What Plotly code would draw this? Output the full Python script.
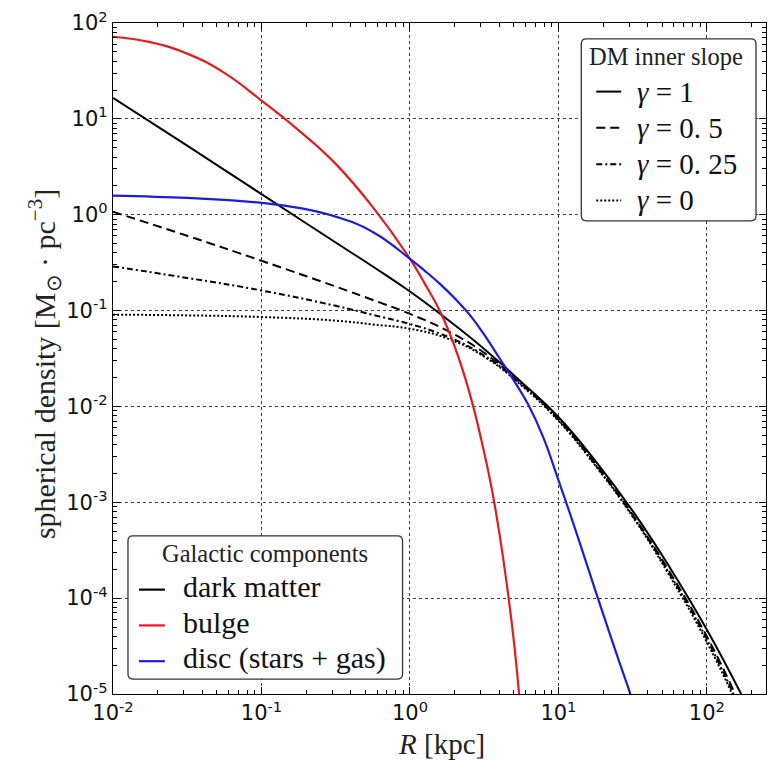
import plotly.graph_objects as go

# ---- Density profiles: radius R [kpc] and spherical density [Msun / pc^3] ----
R_bulge = [0.01, 0.0178, 0.0316, 0.0562, 0.1, 0.178, 0.316, 0.562, 1.0, 1.259, 1.585, 1.995,
           2.512, 3.162, 3.548, 3.981, 4.467, 5.012, 5.433]
rho_bulge = [71.9, 63.1, 47.9, 30.2, 15.5, 7.59, 3.39, 1.20, 0.347, 0.191, 0.100, 0.0427,
             0.0141, 0.00331, 0.00141, 5.01e-4, 1.48e-4, 3.55e-5, 1.0e-5]

R_disc = [0.01, 0.0316, 0.0562, 0.1, 0.178, 0.316, 0.562, 1.0, 1.259, 1.585, 1.995, 2.512,
          3.162, 3.981, 5.012, 6.31, 7.943, 10.0, 12.59, 15.85, 19.95, 25.12, 30.55]
rho_disc = [1.585, 1.50, 1.429, 1.33, 1.18, 0.955, 0.661, 0.347, 0.260, 0.191, 0.135, 0.0912,
            0.0562, 0.0324, 0.0186, 0.0102, 0.00468, 0.0017, 6.03e-4, 2.04e-4, 6.92e-5, 2.40e-5, 1.0e-5]

# dark matter halo for several inner slopes gamma
R_dm_g1 = [0.01, 0.0316, 0.1, 0.316, 0.562, 1.0, 1.778, 3.162, 5.623, 10.0, 17.78, 31.62, 56.23, 100, 170]
rho_dm_g1 = [16.6, 5.25, 1.64, 0.513, 0.288, 0.158, 0.0813, 0.0398, 0.0180, 0.00776, 0.00269,
             8.13e-4, 2.09e-4, 4.68e-5, 1.0e-5]

R_dm_g05 = [0.01, 0.0316, 0.1, 0.316, 0.562, 1.0, 1.778, 3.162, 5.623, 10.0, 17.78, 31.62, 56.23, 100, 155]
rho_dm_g05 = [1.072, 0.603, 0.331, 0.178, 0.129, 0.0923, 0.0617, 0.0363, 0.0174, 0.00741, 0.00251,
              7.41e-4, 1.86e-4, 3.98e-5, 1.0e-5]

R_dm_g025 = [0.01, 0.0316, 0.1, 0.316, 0.562, 1.0, 1.778, 3.162, 5.623, 10.0, 17.78, 31.62, 56.23, 100, 151]
rho_dm_g025 = [0.289, 0.219, 0.162, 0.112, 0.0902, 0.0724, 0.0537, 0.0339, 0.0170, 0.00724, 0.00245,
               7.24e-4, 1.78e-4, 3.72e-5, 1.0e-5]

R_dm_g0 = [0.01, 0.0316, 0.1, 0.316, 0.562, 1.0, 1.778, 3.162, 5.623, 10.0, 17.78, 31.62, 56.23, 100, 148]
rho_dm_g0 = [0.0906, 0.0891, 0.0857, 0.0785, 0.0716, 0.0646, 0.0513, 0.0331, 0.0166, 0.00708, 0.0024,
             7.08e-4, 1.70e-4, 3.47e-5, 1.0e-5]

# ---- Axis ticks ----
x_tick_vals = [0.01, 0.1, 1, 10, 100]
x_tick_text = ["10<sup>-2</sup>", "10<sup>-1</sup>", "10<sup>0</sup>", "10<sup>1</sup>", "10<sup>2</sup>"]
y_tick_vals = [1e-5, 1e-4, 1e-3, 1e-2, 1e-1, 1, 10, 100]
y_tick_text = ["10<sup>-5</sup>", "10<sup>-4</sup>", "10<sup>-3</sup>", "10<sup>-2</sup>",
               "10<sup>-1</sup>", "10<sup>0</sup>", "10<sup>1</sup>", "10<sup>2</sup>"]
x_minor = [k * 10.0 ** d for d in range(-2, 3) for k in range(2, 10) if k * 10.0 ** d <= 250]
y_minor = [k * 10.0 ** d for d in range(-5, 2) for k in range(2, 10)]

# ---- Legend entries ----
comp_labels = ["dark matter", "bulge", "disc (stars + gas)"]
comp_colors = ["black", "#e31d1d", "#1c1cdc"]
slope_labels = ["<i>γ</i> = 1", "<i>γ</i> = 0. 5", "<i>γ</i> = 0. 25", "<i>γ</i> = 0"]
slope_dashes = ["solid", "9px,5px", "6px,3px,2px,3px", "2px,2px"]

# ---- Layout geometry (pixels) ----
W, H = 775, 760
ML, MR, MT, MB = 113, 8, 19, 66
PW, PH = W - ML - MR, H - MT - MB


def fx(x):
    return (x - ML) / PW


def fy(y):
    return (H - MB - y) / PH


def rounded_box(x0, y0, x1, y1, r):
    pts = [
        ("M", [(x0 + r, y0)]), ("L", [(x1 - r, y0)]), ("Q", [(x1, y0), (x1, y0 + r)]),
        ("L", [(x1, y1 - r)]), ("Q", [(x1, y1), (x1 - r, y1)]), ("L", [(x0 + r, y1)]),
        ("Q", [(x0, y1), (x0, y1 - r)]), ("L", [(x0, y0 + r)]), ("Q", [(x0, y0), (x0 + r, y0)]),
    ]
    s = ""
    for cmd, coords in pts:
        s += cmd + " " + " ".join(f"{fx(a):.5f},{fy(b):.5f}" for a, b in coords) + " "
    return s + "Z"


fig = go.Figure()

dm_sets = [(R_dm_g1, rho_dm_g1), (R_dm_g05, rho_dm_g05), (R_dm_g025, rho_dm_g025), (R_dm_g0, rho_dm_g0)]
for (r, rho), dash in zip(dm_sets, slope_dashes):
    fig.add_trace(go.Scatter(x=r, y=rho, mode="lines",
                             line=dict(color="black", width=2, dash=dash, shape="spline", smoothing=1.3),
                             showlegend=False, hoverinfo="skip"))

fig.add_trace(go.Scatter(x=R_bulge, y=rho_bulge, mode="lines",
                         line=dict(color=comp_colors[1], width=2.2, shape="spline", smoothing=1.3),
                         showlegend=False, hoverinfo="skip"))
fig.add_trace(go.Scatter(x=R_disc, y=rho_disc, mode="lines",
                         line=dict(color=comp_colors[2], width=2.2, shape="spline", smoothing=1.3),
                         showlegend=False, hoverinfo="skip"))

serif = "Liberation Serif, Times New Roman, serif"
sans = "DejaVu Sans, sans-serif"

shapes = []
annotations = []

# Galactic components legend box
shapes.append(dict(type="path", xref="paper", yref="paper", path=rounded_box(128, 535, 403, 679, 5),
                   fillcolor="white", line=dict(color="#333333", width=1.3), layer="above"))
annotations.append(dict(x=fx(265), y=fy(553), xref="paper", yref="paper", text="Galactic components",
                        showarrow=False, xanchor="center", yanchor="middle",
                        font=dict(family=serif, size=24.5, color="#222")))
for i, (lab, col) in enumerate(zip(comp_labels, comp_colors)):
    ty = 586 + i * 36
    shapes.append(dict(type="line", xref="paper", yref="paper", x0=fx(139), x1=fx(165),
                       y0=fy(ty + 3), y1=fy(ty + 3), line=dict(color=col, width=2.2), layer="above"))
    annotations.append(dict(x=fx(181), y=fy(ty), xref="paper", yref="paper", text=lab,
                            showarrow=False, xanchor="left", yanchor="middle",
                            font=dict(family=serif, size=30, color="#111")))

# DM inner slope legend box
shapes.append(dict(type="path", xref="paper", yref="paper", path=rounded_box(582, 35, 757, 218, 5),
                   fillcolor="white", line=dict(color="#333333", width=1.3), layer="above"))
annotations.append(dict(x=fx(667), y=fy(53), xref="paper", yref="paper", text="DM inner slope",
                        showarrow=False, xanchor="center", yanchor="middle",
                        font=dict(family=serif, size=24.5, color="#222")))
for i, (lab, dash) in enumerate(zip(slope_labels, slope_dashes)):
    ty = 88 + i * 36.5
    shapes.append(dict(type="line", xref="paper", yref="paper", x0=fx(597), x1=fx(622),
                       y0=fy(ty), y1=fy(ty), line=dict(color="black", width=2, dash=dash), layer="above"))
    annotations.append(dict(x=fx(636), y=fy(ty), xref="paper", yref="paper", text=lab,
                            showarrow=False, xanchor="left", yanchor="middle",
                            font=dict(family=serif, size=29, color="#111")))

# axis titles
annotations.append(dict(x=fx(45), y=fy(362), xref="paper", yref="paper", textangle=-90,
                        text="spherical density [M<sub>⊙</sub> · pc<sup>−3</sup>]",
                        showarrow=False, xanchor="center", yanchor="middle",
                        font=dict(family=serif, size=30, color="#222")))
annotations.append(dict(x=fx(442), y=fy(744), xref="paper", yref="paper",
                        text="<i>R</i> [kpc]", showarrow=False, xanchor="center", yanchor="middle",
                        font=dict(family=serif, size=29, color="#222")))

axis_common = dict(
    type="log", showline=True, linecolor="black", linewidth=1.3, mirror="allticks",
    ticks="inside", ticklen=7, tickwidth=1, tickcolor="black",
    showgrid=True, gridcolor="rgba(30,30,30,0.85)", gridwidth=0.8, griddash="dot",
    zeroline=False, tickfont=dict(family=sans, size=21, color="#111"),
)

fig.update_layout(
    width=W, height=H,
    margin=dict(l=ML, r=MR, t=MT, b=MB),
    paper_bgcolor="white", plot_bgcolor="white",
    showlegend=False,
    xaxis=dict(axis_common, range=[-2, 2.398], tickvals=x_tick_vals, ticktext=x_tick_text,
               minor=dict(tickvals=x_minor, ticks="inside", ticklen=3.5, tickcolor="black", showgrid=False)),
    yaxis=dict(axis_common, range=[-5, 2], tickvals=y_tick_vals, ticktext=y_tick_text,
               minor=dict(tickvals=y_minor, ticks="inside", ticklen=3.5, tickcolor="black", showgrid=False)),
    shapes=shapes,
    annotations=annotations,
)

fig.write_html("out.html")
